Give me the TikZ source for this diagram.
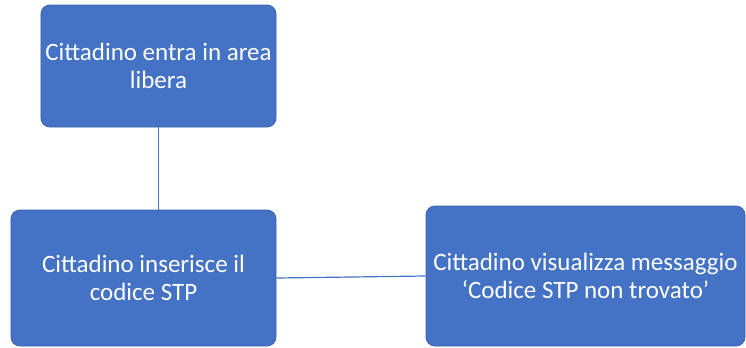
\documentclass[tikz,border=0pt]{standalone}
\usepackage{fontspec}
\setmainfont{Carlito}
\definecolor{boxfill}{HTML}{4472C4}
\definecolor{boxline}{HTML}{3A63AD}
\begin{document}
\begin{tikzpicture}[x=1bp,y=-1bp,
  box/.style={draw=boxline, line width=0.8bp, fill=boxfill, rounded corners=9bp,
    text=white, align=center, inner sep=0pt, font=\fontsize{25bp}{28bp}\selectfont},
  link/.style={draw=boxfill, line width=1.2bp}]
\useasboundingbox (0,0) rectangle (746,347);
\node[box, minimum width=235bp, minimum height=122bp] (b1) at (158.5,66) {Cittadino entra in area\\libera};
\node[box, minimum width=265bp, minimum height=136bp] (b2) at (143.5,278) {Cittadino inserisce il\\codice STP};
\node[box, minimum width=319bp, minimum height=140bp] (b3) at (585.5,276) {Cittadino visualizza messaggio\\‘Codice STP non trovato’};
\draw[link] (b1.south) -- (b1.south |- b2.north);
\draw[link] (b2.east) -- (b3.west);
\end{tikzpicture}
\end{document}
